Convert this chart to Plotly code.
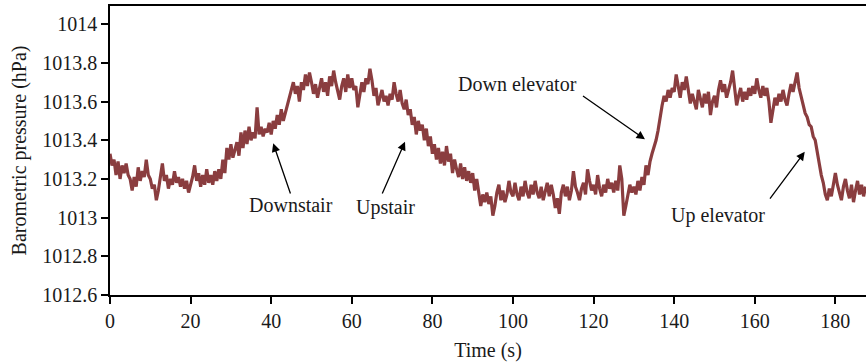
import plotly.graph_objects as go

# Barometric pressure (hPa), sampled every 0.5 s from t = 0 s
pressure = [
    1013.33, 1013.27, 1013.30, 1013.22, 1013.29, 1013.20, 1013.27, 1013.23, 1013.28, 1013.22,
    1013.20, 1013.14, 1013.21, 1013.16, 1013.26, 1013.19, 1013.24, 1013.21, 1013.30, 1013.22,
    1013.20, 1013.15, 1013.17, 1013.09, 1013.14, 1013.22, 1013.28, 1013.19, 1013.22, 1013.15,
    1013.20, 1013.17, 1013.24, 1013.18, 1013.21, 1013.16, 1013.20, 1013.15, 1013.19, 1013.13,
    1013.17, 1013.21, 1013.27, 1013.19, 1013.23, 1013.16, 1013.22, 1013.17, 1013.25, 1013.18,
    1013.22, 1013.17, 1013.24, 1013.19, 1013.25, 1013.20, 1013.30, 1013.23, 1013.36, 1013.30,
    1013.38, 1013.31, 1013.35, 1013.39, 1013.32, 1013.44, 1013.36, 1013.45, 1013.38, 1013.47,
    1013.40, 1013.44, 1013.41, 1013.57, 1013.43, 1013.47, 1013.42, 1013.46, 1013.44, 1013.49,
    1013.43, 1013.50, 1013.46, 1013.53, 1013.48, 1013.56, 1013.50, 1013.54, 1013.58, 1013.62,
    1013.65, 1013.70, 1013.64, 1013.68, 1013.60, 1013.70, 1013.66, 1013.74, 1013.68, 1013.75,
    1013.70, 1013.64, 1013.69, 1013.62, 1013.67, 1013.72, 1013.65, 1013.70, 1013.63, 1013.73,
    1013.68, 1013.76, 1013.70, 1013.66, 1013.61, 1013.68, 1013.72, 1013.65, 1013.74, 1013.67,
    1013.72, 1013.66, 1013.68, 1013.57, 1013.64, 1013.70, 1013.65, 1013.72, 1013.69, 1013.77,
    1013.71, 1013.63, 1013.67, 1013.58, 1013.62, 1013.66, 1013.60, 1013.63, 1013.58, 1013.64,
    1013.61, 1013.70, 1013.64, 1013.60, 1013.66, 1013.59, 1013.56, 1013.61, 1013.53, 1013.56,
    1013.48, 1013.52, 1013.43, 1013.50, 1013.45, 1013.48, 1013.40, 1013.46, 1013.37, 1013.42,
    1013.33, 1013.38, 1013.30, 1013.36, 1013.28, 1013.34, 1013.27, 1013.37, 1013.29, 1013.33,
    1013.23, 1013.30, 1013.25, 1013.21, 1013.28, 1013.20, 1013.26, 1013.19, 1013.24, 1013.18,
    1013.23, 1013.14, 1013.20, 1013.13, 1013.06, 1013.12, 1013.08, 1013.13, 1013.07, 1013.11,
    1013.01, 1013.06, 1013.13, 1013.17, 1013.09, 1013.14, 1013.08, 1013.12, 1013.19, 1013.13,
    1013.11, 1013.18, 1013.12, 1013.09, 1013.16, 1013.11, 1013.19, 1013.13, 1013.10, 1013.17,
    1013.12, 1013.19, 1013.13, 1013.10, 1013.16, 1013.09, 1013.14, 1013.18, 1013.11, 1013.17,
    1013.12, 1013.05, 1013.10, 1013.02, 1013.13, 1013.17, 1013.11, 1013.16, 1013.09, 1013.14,
    1013.24, 1013.16, 1013.13, 1013.09, 1013.15, 1013.18, 1013.12, 1013.25, 1013.19, 1013.14,
    1013.17, 1013.12, 1013.22, 1013.15, 1013.11, 1013.17, 1013.13, 1013.20, 1013.15, 1013.18,
    1013.13, 1013.19, 1013.14, 1013.27, 1013.20, 1013.01, 1013.06, 1013.12, 1013.17, 1013.13,
    1013.16, 1013.12, 1013.19, 1013.14, 1013.21, 1013.17, 1013.27, 1013.22, 1013.29, 1013.33,
    1013.36, 1013.40, 1013.45, 1013.52, 1013.58, 1013.63, 1013.60, 1013.66, 1013.62, 1013.67,
    1013.65, 1013.74, 1013.68, 1013.62, 1013.70, 1013.66, 1013.73, 1013.67, 1013.59, 1013.64,
    1013.60, 1013.56, 1013.66, 1013.62, 1013.57, 1013.64, 1013.59, 1013.65, 1013.53, 1013.60,
    1013.63, 1013.57, 1013.66, 1013.71, 1013.65, 1013.69, 1013.62, 1013.66, 1013.70, 1013.76,
    1013.68, 1013.58, 1013.63, 1013.67, 1013.60, 1013.65, 1013.61, 1013.67, 1013.63, 1013.68,
    1013.64, 1013.72, 1013.66, 1013.62, 1013.68, 1013.63, 1013.67, 1013.60, 1013.49, 1013.57,
    1013.62, 1013.58, 1013.64, 1013.60, 1013.66, 1013.61, 1013.58, 1013.64, 1013.69, 1013.65,
    1013.71, 1013.75, 1013.67, 1013.62, 1013.58, 1013.54, 1013.52, 1013.48, 1013.47, 1013.42,
    1013.40, 1013.33, 1013.28, 1013.22, 1013.18, 1013.12, 1013.09, 1013.15, 1013.11, 1013.17,
    1013.23, 1013.17, 1013.13, 1013.09, 1013.16, 1013.20, 1013.14, 1013.10, 1013.17, 1013.08,
    1013.14, 1013.19, 1013.12, 1013.17, 1013.11, 1013.16,
]
sample_step = 0.5
time_s = [i * sample_step for i in range(len(pressure))]

x_ticks = [0, 20, 40, 60, 80, 100, 120, 140, 160, 180]
y_ticks = [1012.6, 1012.8, 1013.0, 1013.2, 1013.4, 1013.6, 1013.8, 1014.0]
y_tick_labels = ["1012.6", "1012.8", "1013", "1013.2", "1013.4", "1013.6", "1013.8", "1014"]

# annotation labels with arrow tip and tail positions (data coordinates)
labels = ["Downstair", "Upstair", "Down elevator", "Up elevator"]
label_x = [44.9, 68.4, 101.2, 150.8]
label_y = [1013.065, 1013.05, 1013.69, 1013.01]
tip_x = [40.5, 73.2, 132.75, 172.4]
tip_y = [1013.384, 1013.392, 1013.405, 1013.34]
tail_x = [44.9, 67.4, 117.0, 163.5]
tail_y = [1013.117, 1013.117, 1013.634, 1013.091]

FONT = "Liberation Serif"

fig = go.Figure()
fig.add_trace(go.Scatter(
    x=time_s, y=pressure, mode="lines",
    line=dict(color="#8a3d3f", width=3.2),
    showlegend=False, hoverinfo="skip",
))

for i, txt in enumerate(labels):
    fig.add_annotation(x=label_x[i], y=label_y[i], text=txt, showarrow=False,
                       font=dict(family=FONT, size=20, color="#1a1a1a"))
    fig.add_annotation(x=tip_x[i], y=tip_y[i], ax=tail_x[i], ay=tail_y[i],
                       axref="x", ayref="y", text="", showarrow=True,
                       arrowhead=2, arrowsize=1.3, arrowwidth=1.3, arrowcolor="black")

fig.update_layout(
    width=866, height=364,
    margin=dict(l=110, r=0, t=6, b=69),
    paper_bgcolor="white", plot_bgcolor="white",
    font=dict(family=FONT, size=20, color="#1a1a1a"),
)
fig.update_xaxes(
    range=[0, 187.6], tickvals=x_ticks, ticks="outside", ticklen=7, tickwidth=1.5,
    tickcolor="black", showline=True, linecolor="black", linewidth=1.5, mirror=True,
    showgrid=False, zeroline=False,
    title=dict(text="Time (s)", font=dict(family=FONT, size=20), standoff=12),
    tickfont=dict(family=FONT, size=20),
)
fig.update_yaxes(
    range=[1012.6, 1014.094], tickvals=y_ticks, ticktext=y_tick_labels,
    ticks="outside", ticklen=7, tickwidth=1.5, tickcolor="black",
    showline=True, linecolor="black", linewidth=1.5,
    showgrid=False, zeroline=False,
    title=dict(text="Barometric pressure (hPa)", font=dict(family=FONT, size=20), standoff=10),
    tickfont=dict(family=FONT, size=20),
)

fig.write_html("out.html")
